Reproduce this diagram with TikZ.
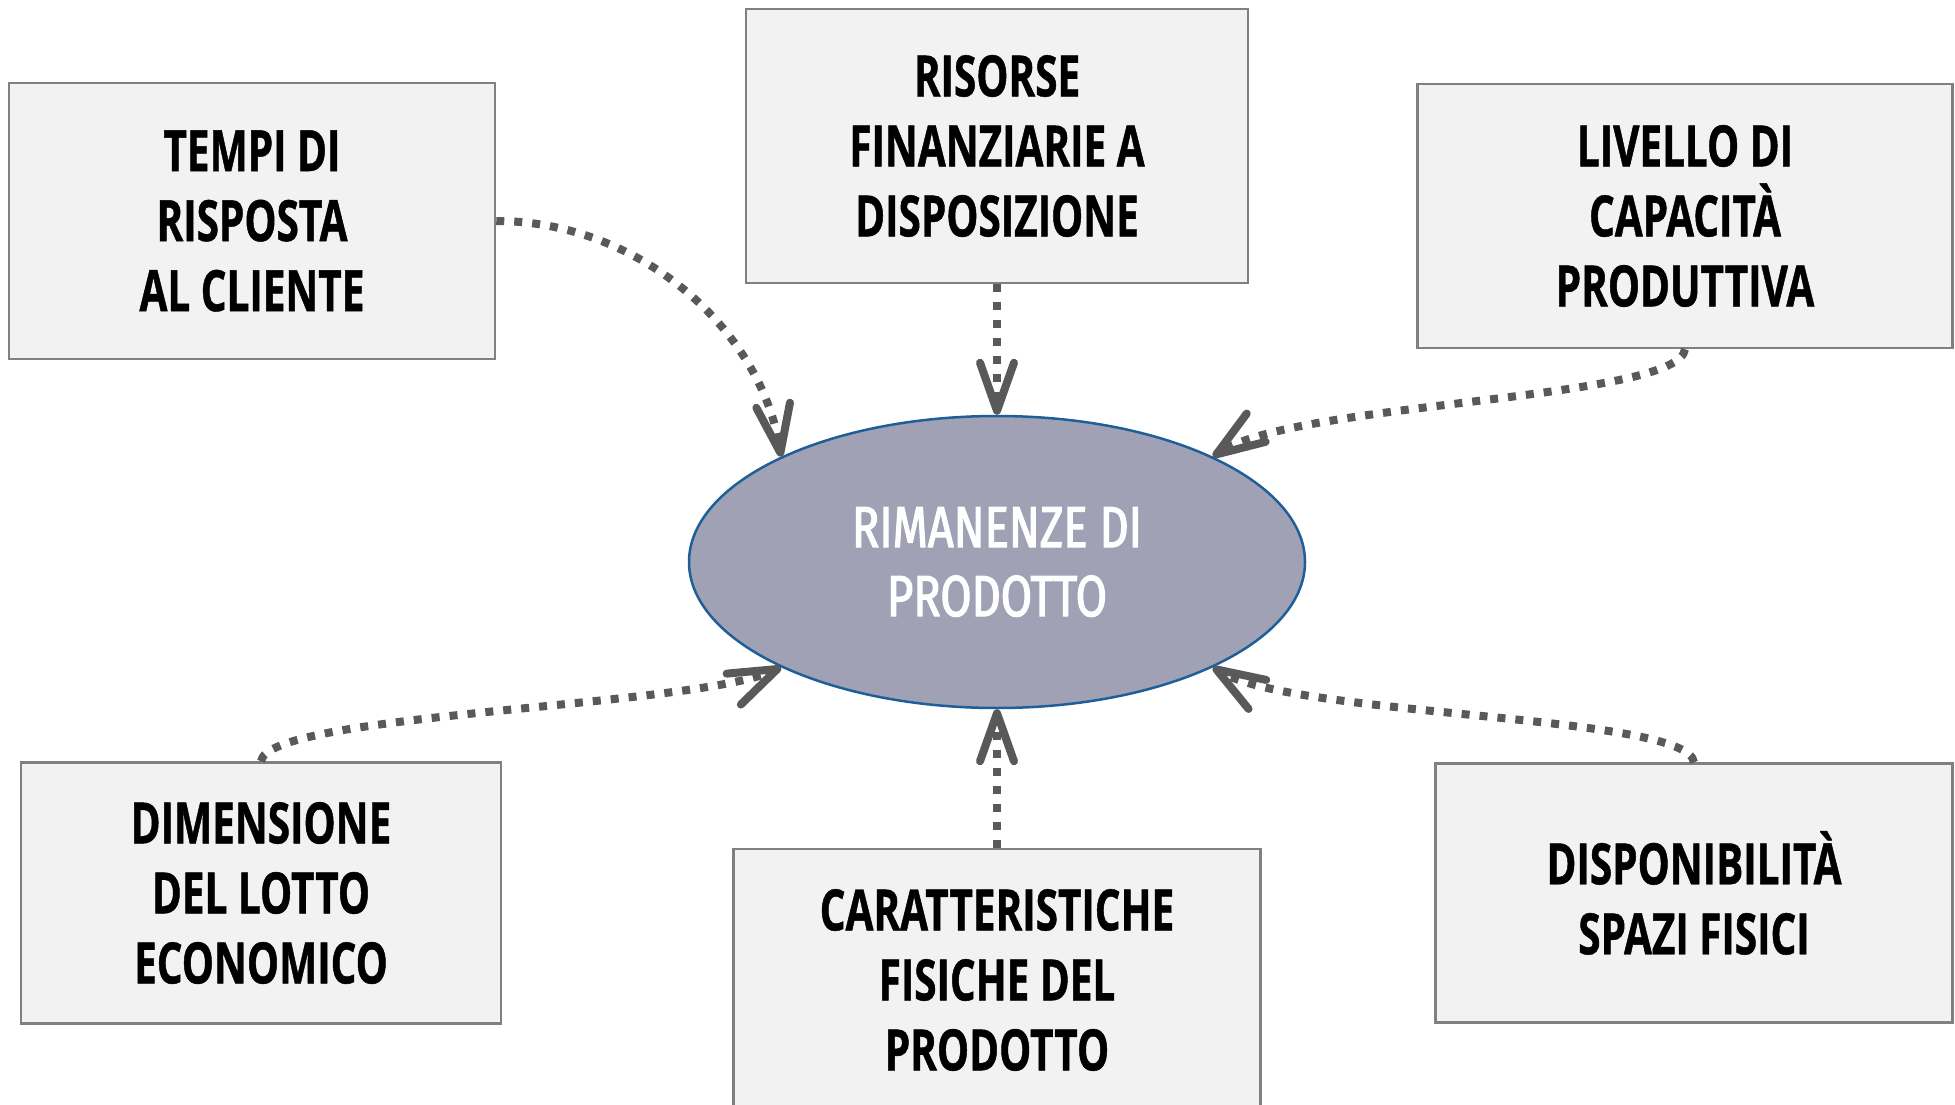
\documentclass[tikz,border=0pt]{standalone}
\usepackage{fontspec}
\usetikzlibrary{arrows.meta,shapes.geometric}
\newfontfamily\boxfont{Open Sans}[FakeStretch=0.71,FakeBold=0.8]
\newfontfamily\centerfont{Fira Sans}[FakeStretch=0.78,FakeBold=2]
\definecolor{boxfill}{HTML}{F2F2F2}
\definecolor{boxline}{HTML}{808080}
\definecolor{ellfill}{HTML}{A0A1B5}
\definecolor{elline}{HTML}{1F5F99}
\definecolor{conn}{HTML}{595959}
\tikzset{
  factor/.style={rectangle, fill=boxfill, draw=boxline, line width=2.5pt, inner sep=0pt,
    align=center, font=\boxfont\bfseries\fontsize{57}{70}\selectfont},
  core/.style={ellipse, fill=ellfill, draw=elline, line width=2.5pt, inner sep=0pt,
    minimum width=616pt, minimum height=292pt, align=center, text=white,
    font=\centerfont\fontsize{58}{69}\selectfont},
  link/.style={draw=conn, line width=8pt, dash pattern=on 8pt off 10pt,
    -{Straight Barb[length=48pt,width=34pt,line width=8pt,round]}},
}
\begin{document}
\begin{tikzpicture}[x=1pt,y=-1pt]
\useasboundingbox (0,0) rectangle (1955,1105);
\node[core] (e) at (997,562) {RIMANENZE DI\\PRODOTTO};
\node[factor, minimum width=486pt, minimum height=276pt] (t) at (252,221) {TEMPI DI\\RISPOSTA\\AL CLIENTE};
\node[factor, minimum width=502pt, minimum height=274pt] (r) at (997,146) {RISORSE\\FINANZIARIE A\\DISPOSIZIONE};
\node[factor, minimum width=535pt, minimum height=264pt] (l) at (1685,216) {LIVELLO DI\\CAPACITÀ\\PRODUTTIVA};
\node[factor, minimum width=480pt, minimum height=261pt] (d) at (261,893) {DIMENSIONE\\DEL LOTTO\\ECONOMICO};
\node[factor, minimum width=527pt, minimum height=262pt] (c) at (997,980) {CARATTERISTICHE\\FISICHE DEL\\PRODOTTO};
\node[factor, minimum width=517pt, minimum height=259pt] (s) at (1694,893) {DISPONIBILITÀ\\SPAZI FISICI};
\draw[link] (t.east) .. controls +(145,0) and +(-19,-125) .. (e.154);
\draw[link] (r.south) -- (e.north);
\draw[link] (l.south) .. controls +(-6,51) and +(82,-55) .. (e.26);
\draw[link] (d.north) .. controls +(6,-48) and +(-87,40) .. (e.206);
\draw[link] (c.north) -- (e.south);
\draw[link] (s.north) .. controls +(-6,-48) and +(82,50) .. (e.334);
\end{tikzpicture}
\end{document}
